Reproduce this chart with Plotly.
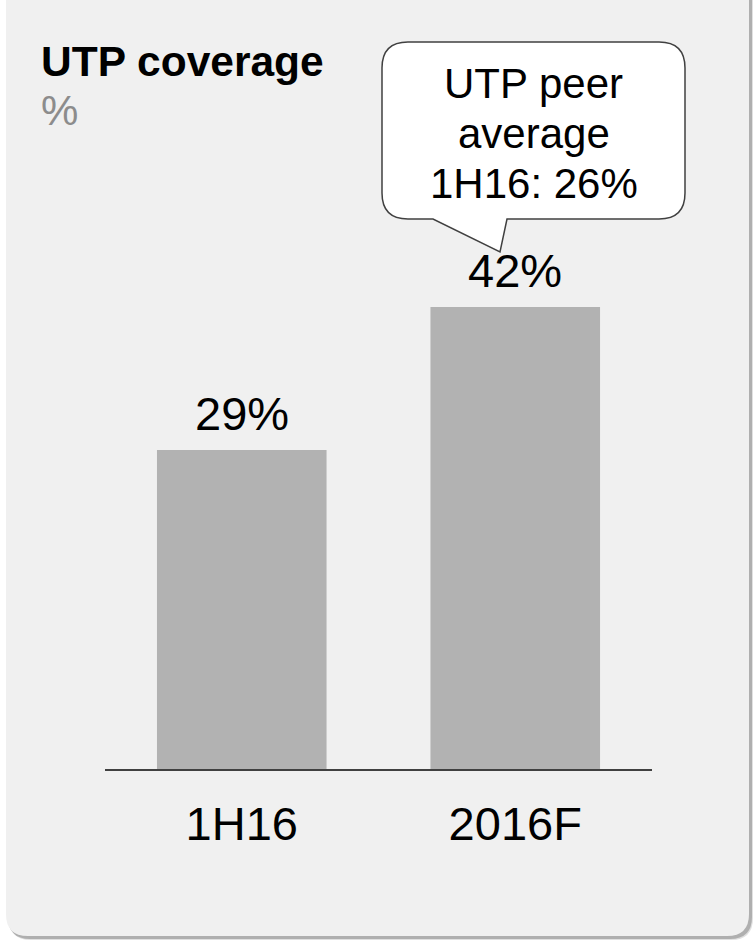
import plotly.graph_objects as go

# ---- data ----
categories = ["1H16", "2016F"]
values = [29, 42]
value_labels = ["29%", "42%"]
title_text = "UTP coverage"
unit_text = "%"
callout_lines = ["UTP peer", "average", "1H16: 26%"]

W, H = 754, 941
FONT = "Liberation Sans, Arial, sans-serif"


def px(x, y):
    return x / W, 1 - y / H


def pth(points_cmds):
    out = []
    for cmd in points_cmds:
        if cmd[0] in ("M", "L"):
            X, Y = px(cmd[1], cmd[2])
            out.append(f"{cmd[0]} {X:.5f},{Y:.5f}")
        elif cmd[0] == "Q":
            X1, Y1 = px(cmd[1], cmd[2])
            X2, Y2 = px(cmd[3], cmd[4])
            out.append(f"Q {X1:.5f},{Y1:.5f} {X2:.5f},{Y2:.5f}")
        elif cmd[0] == "Z":
            out.append("Z")
    return " ".join(out)


def rrect(x0, y0, x1, y1, r, pointer=None):
    cmds = [("M", x0 + r, y0), ("L", x1 - r, y0), ("Q", x1, y0, x1, y0 + r),
            ("L", x1, y1 - r), ("Q", x1, y1, x1 - r, y1)]
    if pointer:
        for p in pointer:
            cmds.append(("L", p[0], p[1]))
    cmds += [("L", x0 + r, y1), ("Q", x0, y1, x0, y1 - r),
             ("L", x0, y0 + r), ("Q", x0, y0, x0 + r, y0), ("Z",)]
    return pth(cmds)


fig = go.Figure()
fig.add_trace(go.Bar(
    x=categories, y=values,
    marker=dict(color="#b2b2b2", line=dict(width=0)),
    hoverinfo="skip",
))

shapes = []
# shadow layers
shapes.append(dict(type="path", xref="paper", yref="paper", layer="below",
                   path=rrect(9, -20, 753, 940, 22),
                   fillcolor="rgba(0,0,0,0.12)", line=dict(width=0)))
shapes.append(dict(type="path", xref="paper", yref="paper", layer="below",
                   path=rrect(8, -20, 752, 939, 22),
                   fillcolor="rgba(0,0,0,0.22)", line=dict(width=0)))
# panel
shapes.append(dict(type="path", xref="paper", yref="paper", layer="below",
                   path=rrect(6, -22, 749, 936, 22),
                   fillcolor="#f0f0f0", line=dict(width=0)))
# callout
shapes.append(dict(type="path", xref="paper", yref="paper", layer="above",
                   path=rrect(382, 42, 685, 219, 26,
                              pointer=[(507, 219), (500, 252), (433, 219)]),
                   fillcolor="#ffffff", line=dict(color="#404040", width=1.5)))

annotations = []
for c, v, t in zip(categories, values, value_labels):
    annotations.append(dict(x=c, y=v, xref="x", yref="y", text=t, showarrow=False,
                            xanchor="center", yanchor="bottom", yshift=8,
                            font=dict(family=FONT, size=47, color="#000000")))

tx, ty = px(39, 62)
annotations.append(dict(x=tx, y=ty, xref="paper", yref="paper", text=f"<b>{title_text}</b>",
                        showarrow=False, xanchor="left", yanchor="middle",
                        font=dict(family=FONT, size=42.5, color="#000000")))
tx, ty = px(39, 110)
annotations.append(dict(x=tx, y=ty, xref="paper", yref="paper", text=unit_text,
                        showarrow=False, xanchor="left", yanchor="middle",
                        font=dict(family=FONT, size=42, color="#8c8c8c")))
for line, yc in zip(callout_lines, [83, 133, 183]):
    cx, cy = px(533.5, yc)
    annotations.append(dict(x=cx, y=cy, xref="paper", yref="paper", text=line,
                            showarrow=False, xanchor="center", yanchor="middle",
                            font=dict(family=FONT, size=42, color="#000000")))

x0d, x1d = 105 / W, 652 / W
y0d, y1d = 1 - 769 / H, 1 - 219 / H

fig.update_layout(
    width=W, height=H, autosize=False,
    margin=dict(l=0, r=0, t=0, b=0, pad=0),
    paper_bgcolor="#ffffff", plot_bgcolor="rgba(0,0,0,0)",
    showlegend=False, bargap=0.38,
    shapes=shapes, annotations=annotations,
    xaxis=dict(domain=[x0d, x1d], range=[-0.5, 1.5], showline=True,
               linecolor="#404040", linewidth=2, ticks="", showgrid=False,
               zeroline=False, tickfont=dict(family=FONT, size=47, color="#000000"),
               ticklabelstandoff=13, fixedrange=True),
    yaxis=dict(domain=[y0d, y1d], range=[0, 50], visible=False, showgrid=False,
               zeroline=False, fixedrange=True),
)

fig.write_html("out.html")
